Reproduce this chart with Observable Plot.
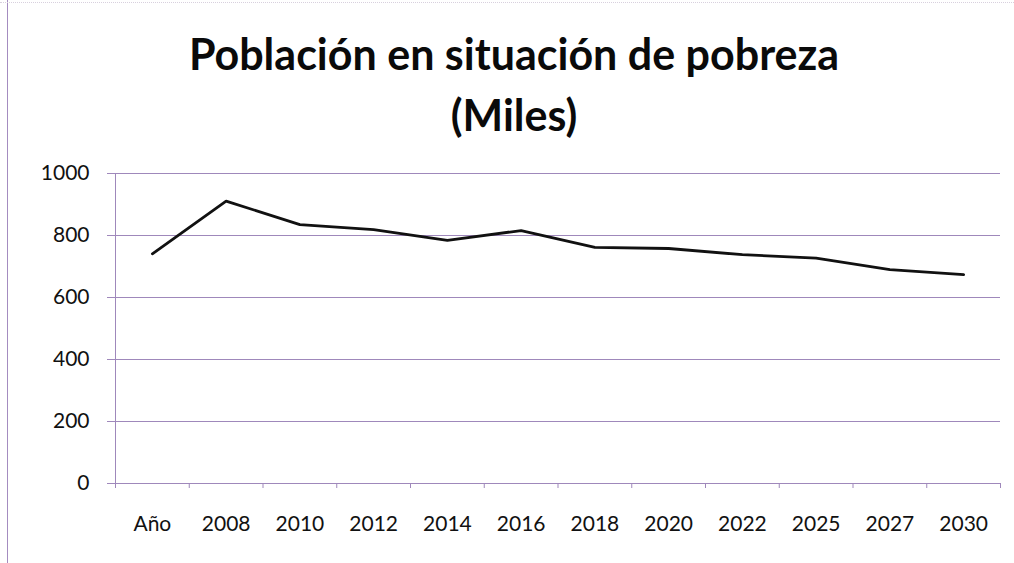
<!DOCTYPE html>
<html>
<head>
<meta charset="utf-8">
<script src="https://cdn.jsdelivr.net/npm/d3@7"></script>
<script src="https://cdn.jsdelivr.net/npm/@observablehq/plot@0.6"></script>
<style>
  html, body { margin: 0; padding: 0; background: #fff; }
  #wrap { position: relative; width: 1014px; height: 563px; overflow: hidden; background: #fff; font-family: Lato, "Liberation Sans", sans-serif; }
  #edge { position: absolute; left: 7px; top: 0; width: 1px; height: 563px; background: #a48cc0; }
  #topedge { position: absolute; left: 0; top: 2px; width: 1014px; height: 0; border-top: 1px dotted #d8d0de; }
  #title { position: absolute; left: 7px; top: 0; width: 1014px; text-align: center; font-weight: 700; font-size: 43px; color: #0a0a0a; }
  #title div { height: 61px; line-height: 61px; }
  #t1 { margin-top: 23px; }
  #chart { position: absolute; left: 0; top: 150px; }
</style>
</head>
<body>
<div id="wrap">
  <div id="edge"></div>
  <div id="topedge"></div>
  <div id="title"><div id="t1">Población en situación de pobreza</div><div id="t2">(Miles)</div></div>
  <div id="chart"></div>
</div>
<script>
const categories = ["Año", "2008", "2010", "2012", "2014", "2016", "2018", "2020", "2022", "2025", "2027", "2030"];
const values = [741, 911, 835, 819, 784, 816, 762, 758, 738, 727, 690, 674];
const yTicks = [0, 200, 400, 600, 800, 1000];

const data = categories.map((c, i) => ({i, cat: c, v: values[i]}));
const centers = categories.map((c, i) => i);
const bounds = categories.map((c, i) => i - 0.5).concat([categories.length - 0.5]);

const gridColor = "#9f88bb";

const chart = Plot.plot({
  width: 1014,
  height: 413,
  marginLeft: 115,
  marginRight: 14,
  marginTop: 23,
  marginBottom: 80,
  style: {fontFamily: "Lato, 'Liberation Sans', sans-serif", fontSize: "21px", color: "#111", background: "transparent"},
  x: {type: "linear", domain: [-0.5, categories.length - 0.5]},
  y: {domain: [0, 1000]},
  marks: [
    Plot.gridY(yTicks, {stroke: gridColor, strokeOpacity: 1, strokeWidth: 1}),
    Plot.axisY(yTicks, {tickSize: 8, tickPadding: 18, tickFormat: d => String(d), stroke: gridColor, label: null, fontSize: 21}),
    Plot.ruleX([-0.5], {stroke: gridColor, strokeWidth: 1}),
    Plot.axisX(bounds, {tickSize: 5, tickFormat: () => "", stroke: gridColor, label: null}),
    Plot.axisX(centers, {tickSize: 0, tickPadding: 33, tickFormat: i => categories[i], label: null, fontSize: 21}),
    Plot.ruleY([0], {stroke: gridColor, strokeWidth: 1.2}),
    Plot.line(data, {x: "i", y: "v", stroke: "#111", strokeWidth: 2.8, strokeLinejoin: "miter"})
  ]
});
document.getElementById("chart").appendChild(chart);
</script>
</body>
</html>
